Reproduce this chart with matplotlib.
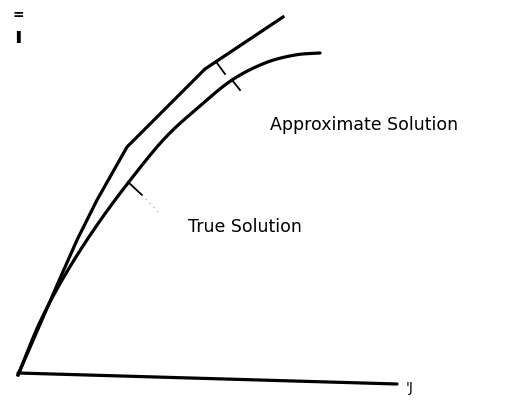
import numpy as np
import matplotlib
matplotlib.use("Agg")
import matplotlib.pyplot as plt

# curve coordinates in sketch units (x right, y down)
approx_x = [18, 58, 77, 97, 127, 205, 283]
approx_y = [375, 283, 240, 200, 147, 69, 17]

true_x = [18, 40, 65, 95, 128, 165, 200, 232, 265, 295, 320]
true_y = [375, 322, 275, 228, 183, 138, 106, 80, 63, 55, 53]

axis_x = [18, 397]
axis_y = [373, 384]

# small pointer marks from the labels to the curves
marks = [
    ([217, 225], [63, 74]),
    ([232, 240], [80, 90]),
    ([128, 142], [182, 195]),
]


def catmull_rom(xs, ys, n=20):
    p = np.column_stack([xs, ys]).astype(float)
    p = np.vstack([2 * p[0] - p[1], p, 2 * p[-1] - p[-2]])
    out = []
    s = np.linspace(0, 1, n, endpoint=False)[:, None]
    for i in range(1, len(p) - 2):
        p0, p1, p2, p3 = p[i - 1], p[i], p[i + 1], p[i + 2]
        out.append(0.5 * (2 * p1 + (-p0 + p2) * s
                          + (2 * p0 - 5 * p1 + 4 * p2 - p3) * s ** 2
                          + (-p0 + 3 * p1 - 3 * p2 + p3) * s ** 3))
    out.append(p[-2][None, :])
    out = np.vstack(out)
    return out[:, 0], out[:, 1]


fig = plt.figure(figsize=(5.05, 4.05), dpi=100)
ax = fig.add_axes([0, 0, 1, 1])
ax.set_xlim(0, 505)
ax.set_ylim(405, 0)
ax.axis("off")

lw = 2.3
ax.plot(axis_x, axis_y, color="black", lw=lw, solid_capstyle="round")
ax.plot(approx_x, approx_y, color="black", lw=lw, solid_joinstyle="round")

cx, cy = catmull_rom(true_x, true_y)
ax.plot(cx, cy, color="black", lw=lw, solid_capstyle="round")

for mx, my in marks:
    ax.plot(mx, my, color="black", lw=1.3)
ax.plot([142, 160], [195, 214], color="0.6", lw=0.8, ls=(0, (1, 4)))

ax.text(270, 125, "Approximate Solution", fontsize=12.5, family="DejaVu Sans",
        va="center", ha="left")
ax.text(188, 227, "True Solution", fontsize=12.5, family="DejaVu Sans",
        va="center", ha="left")
ax.text(18, 15, "=", fontsize=10, ha="center", va="center", fontweight="bold")
ax.text(18, 37, "ı", fontsize=16, ha="center", va="center", fontweight="bold")
ax.text(406, 388, "'J", fontsize=10, ha="left", va="center")

fig.savefig("out.png", dpi=100)
